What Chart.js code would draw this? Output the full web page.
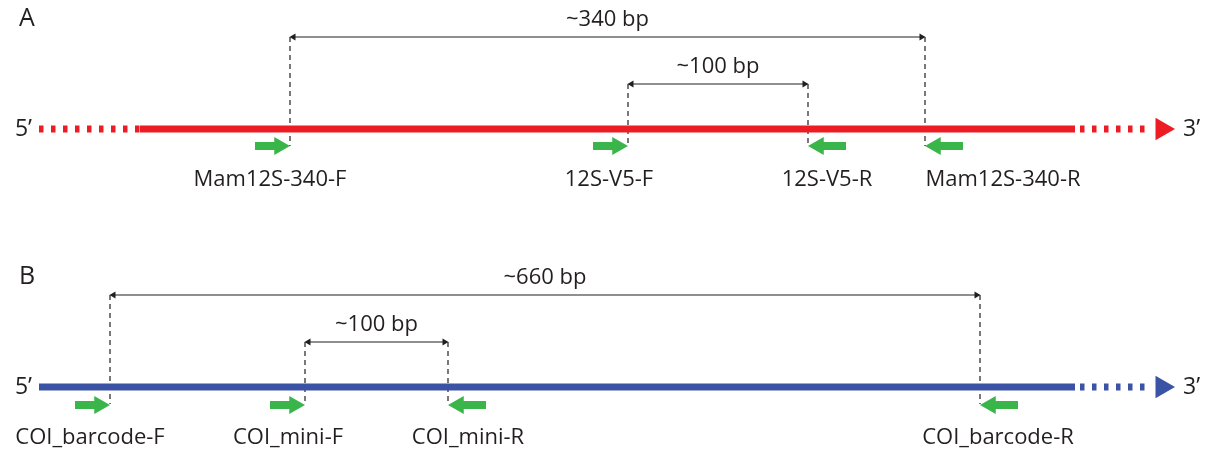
<!DOCTYPE html>
<html>
<head>
<meta charset="utf-8">
<script src="https://cdn.jsdelivr.net/npm/chart.js@4.4.1/dist/chart.umd.min.js"></script>
<style>
    html, body { margin: 0; padding: 0; background: #fff; }
    #wrap { width: 1205px; height: 452px; position: relative; }
</style>
</head>
<body>
<div id="wrap"><canvas id="primerMap"></canvas></div>
<script>
// Data: primer sites along the sequence (x units)
const panelNames = ['A', 'B'];

const primerNamesA = ['Mam12S-340-F', '12S-V5-F', '12S-V5-R', 'Mam12S-340-R'];
const primerSitesA = [290, 628, 808, 925];
const primerStrandA = ['F', 'F', 'R', 'R'];
const ampliconLabelsA = ['~340 bp', '~100 bp'];
const ampliconFromA = [290, 628];
const ampliconToA = [925, 808];
const knownRegionA = [140, 1075];

const primerNamesB = ['COI_barcode-F', 'COI_mini-F', 'COI_mini-R', 'COI_barcode-R'];
const primerSitesB = [110, 305, 448, 980];
const primerStrandB = ['F', 'F', 'R', 'R'];
const ampliconLabelsB = ['~660 bp', '~100 bp'];
const ampliconFromB = [110, 305];
const ampliconToB = [980, 448];
const knownRegionB = [39, 1075];

const sequenceExtent = [39, 1150];

// Layout / style
const rows = [
    { y: 129, color: '#ED1C24', nameShift: [-20, -19, 19, 78] },
    { y: 387, color: '#3A53A4', nameShift: [-20, -17, 20, 18] }
];
const spanLevelDy = [-92, -45];
const arrowDy = 17;
const labelDy = 51;
const dotted = [4.5, 7.5];
const green = '#39B54A';
const ink = '#231F20';
const font = '"Open Sans", sans-serif';

const panelsData = [
    { names: primerNamesA, sites: primerSitesA, dirs: primerStrandA, spanLabels: ampliconLabelsA, from: ampliconFromA, to: ampliconToA, known: knownRegionA },
    { names: primerNamesB, sites: primerSitesB, dirs: primerStrandB, spanLabels: ampliconLabelsB, from: ampliconFromB, to: ampliconToB, known: knownRegionB }
];

function seg(x1, y1, x2, y2, color, width, dash) {
    return {
        type: 'scatter',
        data: [{ x: x1, y: y1 }, { x: x2, y: y2 }],
        showLine: true,
        borderColor: color,
        borderWidth: width,
        borderDash: dash || [],
        borderCapStyle: 'butt',
        pointRadius: 0,
        pointHoverRadius: 0,
        clip: false
    };
}

function tri(x, y, r, rot, color) {
    return {
        type: 'scatter',
        data: [{ x: x, y: y }],
        showLine: false,
        pointStyle: 'triangle',
        pointRadius: r,
        pointHoverRadius: r,
        pointRotation: rot,
        backgroundColor: color,
        borderColor: color,
        borderWidth: 0,
        clip: false
    };
}

const datasets = [];
panelsData.forEach((p, i) => {
    const row = rows[i];
    const y = row.y;
    // strand: dotted ends, solid known region, 3' arrowhead
    if (p.known[0] > sequenceExtent[0]) {
        datasets.push(seg(sequenceExtent[0], y, p.known[0], y, row.color, 7, dotted));
    }
    datasets.push(seg(p.known[0], y, p.known[1], y, row.color, 7));
    datasets.push(seg(p.known[1] + 5, y, sequenceExtent[1], y, row.color, 7, dotted));
    datasets.push(tri(sequenceExtent[1] + 12, y, 13, 90, row.color));

    // amplicon spans
    p.from.forEach((f, k) => {
        const t = p.to[k];
        const ly = y + spanLevelDy[k];
        datasets.push(seg(f, ly, f, y + arrowDy, ink, 1.2, [5, 4]));
        datasets.push(seg(t, ly, t, y + arrowDy, ink, 1.2, [5, 4]));
        datasets.push(seg(f + 3, ly, t - 3, ly, ink, 1.2));
        datasets.push(tri(f + 3.5, ly, 4, -90, ink));
        datasets.push(tri(t - 3.5, ly, 4, 90, ink));
    });

    // primers (green arrows)
    p.sites.forEach((s, k) => {
        const ay = y + arrowDy + (i === 1 ? 1 : 0);
        if (p.dirs[k] === 'F') {
            datasets.push(seg(s - 35, ay, s - 14, ay, green, 8));
            datasets.push(tri(s - 10.5, ay, 10.5, 90, green));
        } else {
            datasets.push(seg(s + 14, ay, s + 38, ay, green, 8));
            datasets.push(tri(s + 10.5, ay, 10.5, -90, green));
        }
    });
});

const textPlugin = {
    id: 'diagramText',
    afterDatasetsDraw(chart) {
        const ctx = chart.ctx;
        const xs = chart.scales.x;
        const ys = chart.scales.y;
        ctx.save();
        ctx.fillStyle = ink;
        ctx.textBaseline = 'middle';
        panelsData.forEach((p, i) => {
            const y = rows[i].y;
            ctx.font = '25px ' + font;
            ctx.textAlign = 'left';
            ctx.fillText(panelNames[i], 19, ys.getPixelForValue(y - 110));
            ctx.font = '23px ' + font;
            ctx.textAlign = 'right';
            ctx.fillText('5\u2019', xs.getPixelForValue(sequenceExtent[0]) - 7, ys.getPixelForValue(y));
            ctx.textAlign = 'left';
            ctx.fillText('3\u2019', xs.getPixelForValue(sequenceExtent[1] + 33), ys.getPixelForValue(y));
            ctx.font = '22px ' + font;
            ctx.textAlign = 'center';
            p.spanLabels.forEach((lab, k) => {
                const mid = (p.from[k] + p.to[k]) / 2;
                ctx.fillText(lab, xs.getPixelForValue(mid), ys.getPixelForValue(y + spanLevelDy[k] - 17));
            });
            p.names.forEach((n, k) => {
                ctx.fillText(n, xs.getPixelForValue(p.sites[k] + rows[i].nameShift[k]), ys.getPixelForValue(y + labelDy));
            });
        });
        ctx.restore();
    }
};

new Chart(document.getElementById('primerMap'), {
    type: 'scatter',
    data: { datasets: datasets },
    options: {
        responsive: true,
        maintainAspectRatio: false,
        animation: false,
        events: [],
        layout: { padding: 0, autoPadding: false },
        plugins: { legend: { display: false }, tooltip: { enabled: false } },
        scales: {
            x: { type: 'linear', min: 0, max: 1205, display: false },
            y: { type: 'linear', min: 0, max: 452, reverse: true, display: false }
        }
    },
    plugins: [textPlugin]
});
</script>
</body>
</html>
